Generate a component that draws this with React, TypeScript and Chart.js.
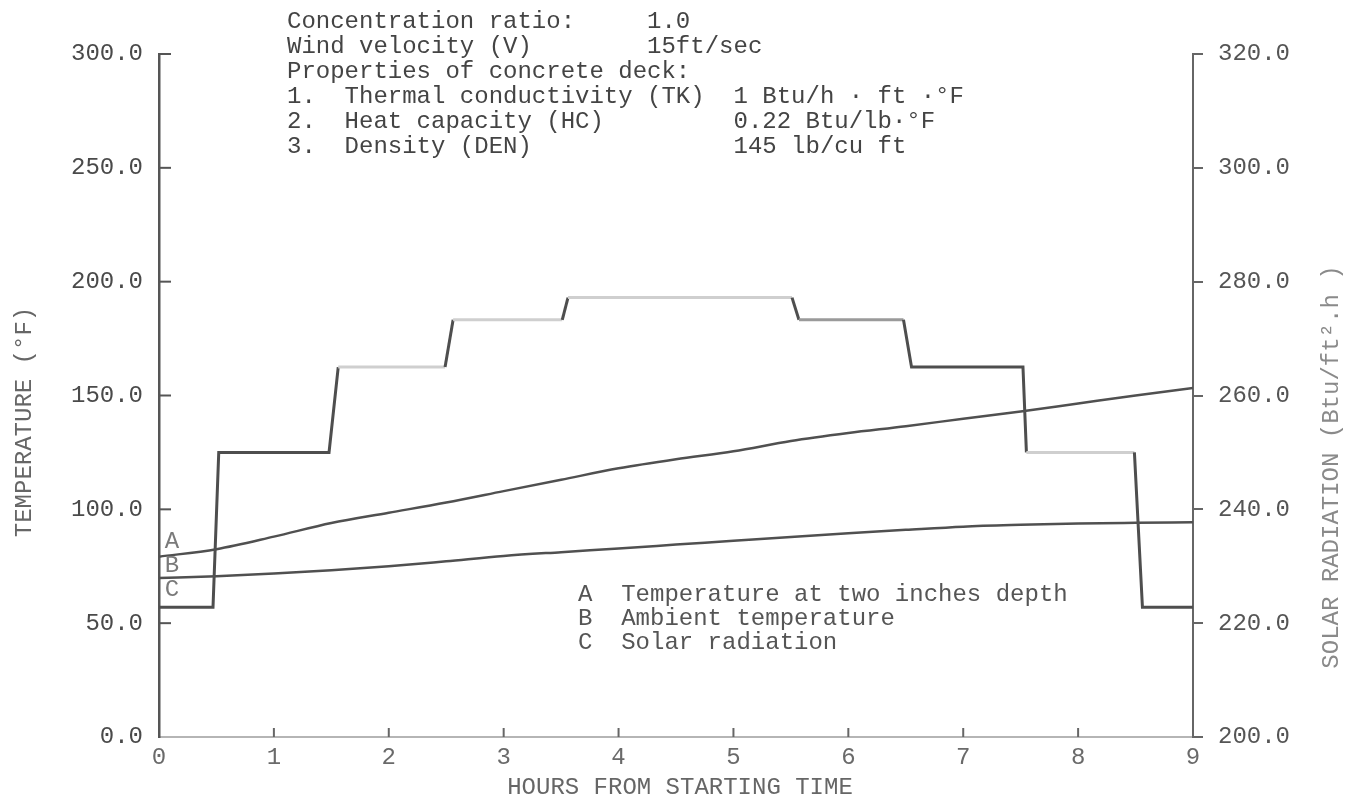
import React, { useEffect, useRef } from "react";
import { Chart, registerables } from "chart.js";

Chart.register(...registerables);

// ---------- data ----------
const hours = [0, 0.5, 1, 1.5, 2, 2.5, 3, 3.5, 4, 4.5, 5, 5.5, 6, 6.5, 7, 7.5, 8, 8.5, 9];
// A: temperature at two inches depth (°F)
const tempAtDepth = [79.2, 82.5, 88, 94, 98.5, 103, 108, 113, 118, 122, 125.5, 130, 133.5, 136.5, 139.8, 143, 146.5, 150, 153.3];
// B: ambient temperature (°F)
const ambientTemp = [69.8, 70.6, 71.8, 73.2, 75, 77.2, 79.5, 81.2, 82.8, 84.5, 86.2, 87.9, 89.5, 91, 92.4, 93.2, 93.8, 94.1, 94.3];
// C: solar radiation (Btu/ft².h), stepped
const solarHours = [0, 0.47, 0.52, 1.48, 1.56, 2.49, 2.56, 3.51, 3.56, 5.51, 5.57, 6.48, 6.55, 7.52, 7.55, 8.49, 8.56, 9];
const solarRadiation = [222.8, 222.8, 250, 250, 265, 265, 273.3, 273.3, 277.2, 277.2, 273.3, 273.3, 265, 265, 250, 250, 222.8, 222.8];

const annotationLines = [
  "Concentration ratio:     1.0",
  "Wind velocity (V)        15ft/sec",
  "Properties of concrete deck:",
  "1.  Thermal conductivity (TK)  1 Btu/h · ft ·°F",
  "2.  Heat capacity (HC)         0.22 Btu/lb·°F",
  "3.  Density (DEN)              145 lb/cu ft",
];
const legendLines = [
  "A  Temperature at two inches depth",
  "B  Ambient temperature",
  "C  Solar radiation",
];
const curveLetters = ["A", "B", "C"];
const leftTitle = "TEMPERATURE (°F)";
const rightTitle = "SOLAR RADIATION (Btu/ft².h )";
const bottomTitle = "HOURS FROM STARTING TIME";

// ---------- styles ----------
const FONT = '"Liberation Mono", "Courier New", monospace';
const DARK = "#4e4e4e";
const MID = "#9a9a9a";
const LIGHT = "#cfcfcf";
const solarSegmentShade = [DARK, DARK, DARK, DARK, LIGHT, DARK, LIGHT, DARK, LIGHT, DARK, MID, DARK, DARK, DARK, LIGHT, DARK, DARK];

const paperPlugin = {
  id: "paperText",
  afterDraw(chart: any) {
    const ctx = chart.ctx as CanvasRenderingContext2D;
    const { left, bottom } = chart.chartArea;
    const ys = chart.scales.y;
    const xs = chart.scales.x;
    ctx.save();
    // inward tick marks on left and bottom axes
    ctx.strokeStyle = "#555";
    ctx.lineWidth = 2;
    ys.ticks.forEach((t: any) => {
      if (t.value === 0) return;
      const py = ys.getPixelForValue(t.value);
      ctx.beginPath();
      ctx.moveTo(left, py);
      ctx.lineTo(left + 12, py);
      ctx.stroke();
    });
    ctx.strokeStyle = "#666";
    xs.ticks.forEach((t: any) => {
      if (t.value === 0 || t.value === 9) return;
      const px = xs.getPixelForValue(t.value);
      ctx.beginPath();
      ctx.moveTo(px, bottom);
      ctx.lineTo(px, bottom - 9);
      ctx.stroke();
    });

    ctx.font = `24px ${FONT}`;
    ctx.textBaseline = "middle";
    ctx.textAlign = "left";
    ctx.fillStyle = "#444";
    annotationLines.forEach((s, i) => ctx.fillText(s, 287, 22 + i * 25));
    ctx.fillStyle = "#555";
    legendLines.forEach((s, i) => ctx.fillText(s, 578, 595 + i * 24));

    ctx.textAlign = "center";
    ctx.fillStyle = "#7a7a7a";
    curveLetters.forEach((s, i) => ctx.fillText(s, 172, 542 + i * 24));

    ctx.fillStyle = "#666";
    ctx.fillText(bottomTitle, 680, 788);

    ctx.save();
    ctx.translate(25, 422);
    ctx.rotate(-Math.PI / 2);
    ctx.fillStyle = "#666";
    ctx.fillText(leftTitle, 0, 0);
    ctx.restore();

    ctx.save();
    ctx.translate(1332, 467);
    ctx.rotate(-Math.PI / 2);
    ctx.fillStyle = "#8a8a8a";
    ctx.fillText(rightTitle, 0, 0);
    ctx.restore();

    ctx.restore();
  },
};

export default function App() {
  const canvasRef = useRef<HTMLCanvasElement | null>(null);

  useEffect(() => {
    if (!canvasRef.current) return;
    const tickFont = { family: FONT, size: 24 };
    const chart = new Chart(canvasRef.current, {
      type: "line",
      data: {
        datasets: [
          {
            label: "A",
            data: hours.map((h, i) => ({ x: h, y: tempAtDepth[i] })),
            yAxisID: "y",
            borderColor: "#505050",
            borderWidth: 2.5,
            pointRadius: 0,
            cubicInterpolationMode: "monotone",
          },
          {
            label: "B",
            data: hours.map((h, i) => ({ x: h, y: ambientTemp[i] })),
            yAxisID: "y",
            borderColor: "#505050",
            borderWidth: 2.5,
            pointRadius: 0,
            cubicInterpolationMode: "monotone",
          },
          {
            label: "C",
            data: solarHours.map((h, i) => ({ x: h, y: solarRadiation[i] })),
            yAxisID: "y2",
            borderColor: DARK,
            borderWidth: 3,
            pointRadius: 0,
            tension: 0,
            segment: {
              borderColor: (c: any) => solarSegmentShade[c.p0DataIndex] || DARK,
            },
          },
        ],
      },
      options: {
        animation: false,
        responsive: true,
        maintainAspectRatio: false,
        devicePixelRatio: 1,
        events: [],
        layout: { padding: { top: 54, left: 0, right: 0, bottom: 0 } },
        plugins: { legend: { display: false }, tooltip: { enabled: false }, title: { display: false } },
        scales: {
          x: {
            type: "linear",
            position: "bottom",
            min: 0,
            max: 9,
            ticks: { stepSize: 1, padding: 6, font: tickFont, color: "#6a6a6a", maxRotation: 0 },
            grid: { display: false, drawTicks: false },
            border: { display: true, color: "#b5b5b5", width: 2 },
            afterFit: (s: any) => {
              s.height = 69;
            },
          },
          y: {
            type: "linear",
            position: "left",
            min: 0,
            max: 300,
            ticks: {
              stepSize: 50,
              padding: 16,
              font: tickFont,
              color: "#4a4a4a",
              callback: (v: any) => Number(v).toFixed(1),
            },
            grid: { display: false, drawTicks: false },
            border: { display: true, color: "#555", width: 2.5 },
            afterFit: (s: any) => {
              s.width = 159;
            },
          },
          y2: {
            type: "linear",
            position: "right",
            min: 200,
            max: 320,
            ticks: {
              stepSize: 20,
              padding: 15,
              font: tickFont,
              color: "#555",
              callback: (v: any) => Number(v).toFixed(1),
            },
            grid: { display: true, drawOnChartArea: false, drawTicks: true, tickLength: 10, color: "#666", lineWidth: 2 },
            border: { display: true, color: "#666", width: 2 },
            afterFit: (s: any) => {
              s.width = 162;
            },
          },
        },
      },
      plugins: [paperPlugin],
    } as any);
    return () => chart.destroy();
  }, []);

  return (
    <div style={{ position: "fixed", left: 0, top: 0, width: 1355, height: 806, background: "#fff" }}>
      <canvas ref={canvasRef} />
    </div>
  );
}
